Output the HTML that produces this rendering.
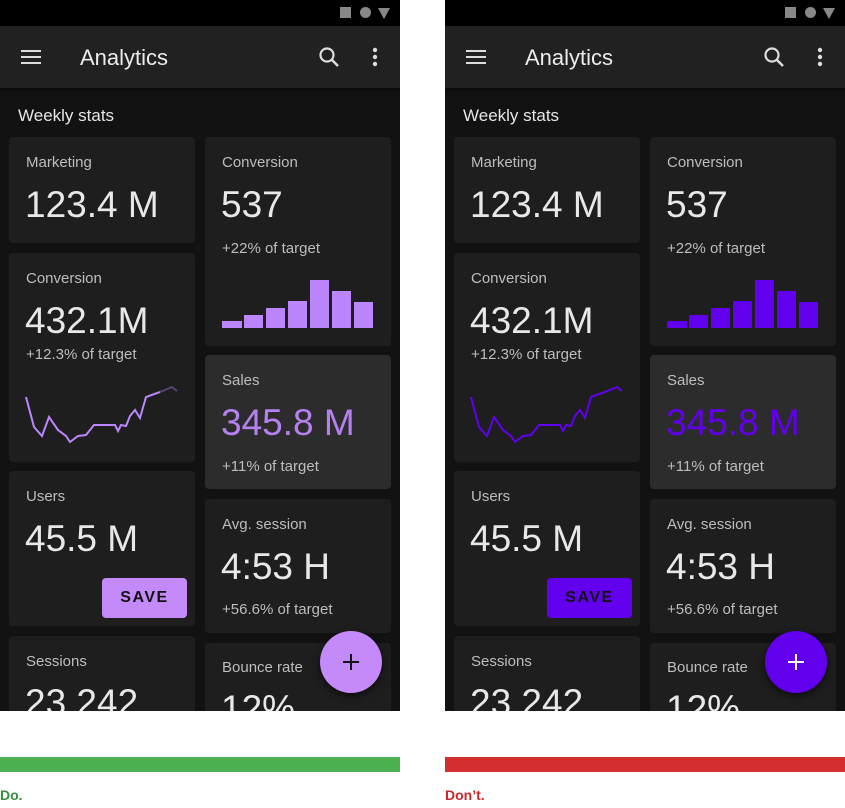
<!DOCTYPE html>
<html><head><meta charset="utf-8"><style>
*{margin:0;padding:0;box-sizing:border-box}
body{width:845px;height:808px;background:#fff;position:relative;overflow:hidden;font-family:"Liberation Sans",sans-serif}
.ph{position:absolute;top:0;width:400px;height:711px;background:#121212;overflow:hidden}
.sb{position:absolute;left:0;top:0;width:400px;height:26px;background:#000}
.ab{position:absolute;left:0;top:26px;width:400px;height:62px;background:#212121;box-shadow:0 2px 4px rgba(0,0,0,.5)}
.t{position:absolute;white-space:nowrap;color:#e6e6e6}
.c{position:absolute;background:#1e1e1e;border-radius:4px;width:186px}
.lbl{font-size:15px;color:#bdbdbd}
.big{font-size:37px;color:#e8e8e8}
.sub{font-size:15px;color:#bdbdbd}
.fab{position:absolute;left:320px;top:631px;width:62px;height:62px;border-radius:50%;box-shadow:0 3px 8px rgba(0,0,0,.6)}
.btn{position:absolute;left:102px;top:578px;width:85px;height:40px;border-radius:4px;font-size:16px;font-weight:bold;letter-spacing:1.5px;text-align:center;line-height:40px}
.title{left:80px;top:19px;font-size:22px;color:#ececec}
</style></head><body>

<!-- LEFT -->
<div class="ph" style="left:0">
<div class="sb"><div style="position:absolute;left:340px;top:7px;width:11px;height:11px;background:#888"></div><div style="position:absolute;left:360px;top:7px;width:11px;height:11px;border-radius:50%;background:#888"></div><div style="position:absolute;left:378px;top:8px;width:0;height:0;border-left:6px solid transparent;border-right:6px solid transparent;border-top:11px solid #888"></div></div>
<div class="ab">
<div style="position:absolute;left:21px;top:24px;width:20px;height:2px;background:#ddd;box-shadow:0 6px 0 #ddd,0 12px 0 #ddd"></div>
<div class="t title">Analytics</div>
<svg style="position:absolute;left:318px;top:20px" width="22" height="22"><circle cx="9" cy="9" r="6.5" stroke="#ddd" stroke-width="2.2" fill="none"/><line x1="14" y1="14" x2="20" y2="20" stroke="#ddd" stroke-width="2.5"/></svg>
<svg style="position:absolute;left:370px;top:20px" width="10" height="22"><circle cx="5" cy="4" r="2.2" fill="#ddd"/><circle cx="5" cy="11" r="2.2" fill="#ddd"/><circle cx="5" cy="18" r="2.2" fill="#ddd"/></svg>
</div>
<div class="t" style="left:18px;top:106px;font-size:17px">Weekly stats</div>
<div class="c" style="left:9px;top:137px;height:106px"></div>
<div class="t lbl" style="left:26px;top:154px">Marketing</div>
<div class="t big" style="left:25px;top:184px">123.4 M</div>
<div class="c" style="left:9px;top:253px;height:209px"></div>
<div class="t lbl" style="left:26px;top:270px">Conversion</div>
<div class="t big" style="left:25px;top:300px">432.1M</div>
<div class="t sub" style="left:26px;top:346px">+12.3% of target</div>
<svg style="position:absolute;left:0;top:0" width="200" height="460"><polyline points="26,397 34,427 42,436 49,417 58,430 66,436 70,442 78,436 86,435 94,425 115,425 118,431 121,425 126,426 130,416 135,410 140,418 146,397 160,392" fill="none" stroke="#bb86fc" stroke-width="2"/><polyline points="160,392 172,387 177,391" fill="none" stroke="#5a4476" stroke-width="2"/></svg>
<div class="c" style="left:9px;top:471px;height:155px"></div>
<div class="t lbl" style="left:26px;top:488px">Users</div>
<div class="t big" style="left:25px;top:518px">45.5 M</div>
<div class="btn" style="background:#c58af9;color:#111">SAVE</div>
<div class="c" style="left:9px;top:636px;height:90px"></div>
<div class="t lbl" style="left:26px;top:653px">Sessions</div>
<div class="t big" style="left:25px;top:682px">23,242</div>
<div class="c" style="left:205px;top:137px;height:209px"></div>
<div class="t lbl" style="left:222px;top:154px">Conversion</div>
<div class="t big" style="left:221px;top:184px">537</div>
<div class="t sub" style="left:222px;top:240px">+22% of target</div>
<svg style="position:absolute;left:0;top:0" width="400" height="340" fill="#bb86fc"><rect x="222" y="321" width="20" height="7"/><rect x="244" y="315" width="19" height="13"/><rect x="266" y="308" width="19" height="20"/><rect x="288" y="301" width="19" height="27"/><rect x="310" y="280" width="19" height="48"/><rect x="332" y="291" width="19" height="37"/><rect x="354" y="302" width="19" height="26"/></svg>
<div class="c" style="left:205px;top:355px;height:134px;background:#2c2c2c"></div>
<div class="t lbl" style="left:222px;top:372px">Sales</div>
<div class="t big" style="left:221px;top:402px;color:#b580f0">345.8 M</div>
<div class="t sub" style="left:222px;top:458px">+11% of target</div>
<div class="c" style="left:205px;top:499px;height:134px"></div>
<div class="t lbl" style="left:222px;top:516px">Avg. session</div>
<div class="t big" style="left:221px;top:546px">4:53 H</div>
<div class="t sub" style="left:222px;top:601px">+56.6% of target</div>
<div class="c" style="left:205px;top:643px;height:90px"></div>
<div class="t lbl" style="left:222px;top:659px">Bounce rate</div>
<div class="t big" style="left:221px;top:688px">12%</div>
<div class="fab" style="background:#c58af9"><div style="position:absolute;left:23px;top:30px;width:16px;height:2px;background:#111"></div><div style="position:absolute;left:30px;top:23px;width:2px;height:16px;background:#111"></div></div>
</div>
<div style="position:absolute;left:0;top:757px;width:400px;height:15px;background:#4caf50"></div>
<div class="t" style="left:0;top:787px;font-size:14px;font-weight:bold;color:#388e3c">Do.</div>

<!-- RIGHT -->
<div class="ph" style="left:445px">
<div class="sb"><div style="position:absolute;left:340px;top:7px;width:11px;height:11px;background:#888"></div><div style="position:absolute;left:360px;top:7px;width:11px;height:11px;border-radius:50%;background:#888"></div><div style="position:absolute;left:378px;top:8px;width:0;height:0;border-left:6px solid transparent;border-right:6px solid transparent;border-top:11px solid #888"></div></div>
<div class="ab">
<div style="position:absolute;left:21px;top:24px;width:20px;height:2px;background:#ddd;box-shadow:0 6px 0 #ddd,0 12px 0 #ddd"></div>
<div class="t title">Analytics</div>
<svg style="position:absolute;left:318px;top:20px" width="22" height="22"><circle cx="9" cy="9" r="6.5" stroke="#ddd" stroke-width="2.2" fill="none"/><line x1="14" y1="14" x2="20" y2="20" stroke="#ddd" stroke-width="2.5"/></svg>
<svg style="position:absolute;left:370px;top:20px" width="10" height="22"><circle cx="5" cy="4" r="2.2" fill="#ddd"/><circle cx="5" cy="11" r="2.2" fill="#ddd"/><circle cx="5" cy="18" r="2.2" fill="#ddd"/></svg>
</div>
<div class="t" style="left:18px;top:106px;font-size:17px">Weekly stats</div>
<div class="c" style="left:9px;top:137px;height:106px"></div>
<div class="t lbl" style="left:26px;top:154px">Marketing</div>
<div class="t big" style="left:25px;top:184px">123.4 M</div>
<div class="c" style="left:9px;top:253px;height:209px"></div>
<div class="t lbl" style="left:26px;top:270px">Conversion</div>
<div class="t big" style="left:25px;top:300px">432.1M</div>
<div class="t sub" style="left:26px;top:346px">+12.3% of target</div>
<svg style="position:absolute;left:0;top:0" width="200" height="460"><polyline points="26,397 34,427 42,436 49,417 58,430 66,436 70,442 78,436 86,435 94,425 115,425 118,431 121,425 126,426 130,416 135,410 140,418 146,397 160,392 172,387 177,391" fill="none" stroke="#6200ee" stroke-width="2"/></svg>
<div class="c" style="left:9px;top:471px;height:155px"></div>
<div class="t lbl" style="left:26px;top:488px">Users</div>
<div class="t big" style="left:25px;top:518px">45.5 M</div>
<div class="btn" style="background:#6200ee;color:#111">SAVE</div>
<div class="c" style="left:9px;top:636px;height:90px"></div>
<div class="t lbl" style="left:26px;top:653px">Sessions</div>
<div class="t big" style="left:25px;top:682px">23,242</div>
<div class="c" style="left:205px;top:137px;height:209px"></div>
<div class="t lbl" style="left:222px;top:154px">Conversion</div>
<div class="t big" style="left:221px;top:184px">537</div>
<div class="t sub" style="left:222px;top:240px">+22% of target</div>
<svg style="position:absolute;left:0;top:0" width="400" height="340" fill="#6200ee"><rect x="222" y="321" width="20" height="7"/><rect x="244" y="315" width="19" height="13"/><rect x="266" y="308" width="19" height="20"/><rect x="288" y="301" width="19" height="27"/><rect x="310" y="280" width="19" height="48"/><rect x="332" y="291" width="19" height="37"/><rect x="354" y="302" width="19" height="26"/></svg>
<div class="c" style="left:205px;top:355px;height:134px;background:#2c2c2c"></div>
<div class="t lbl" style="left:222px;top:372px">Sales</div>
<div class="t big" style="left:221px;top:402px;color:#6200ee">345.8 M</div>
<div class="t sub" style="left:222px;top:458px">+11% of target</div>
<div class="c" style="left:205px;top:499px;height:134px"></div>
<div class="t lbl" style="left:222px;top:516px">Avg. session</div>
<div class="t big" style="left:221px;top:546px">4:53 H</div>
<div class="t sub" style="left:222px;top:601px">+56.6% of target</div>
<div class="c" style="left:205px;top:643px;height:90px"></div>
<div class="t lbl" style="left:222px;top:659px">Bounce rate</div>
<div class="t big" style="left:221px;top:688px">12%</div>
<div class="fab" style="background:#6200ee"><div style="position:absolute;left:23px;top:30px;width:16px;height:2px;background:#fff"></div><div style="position:absolute;left:30px;top:23px;width:2px;height:16px;background:#fff"></div></div>
</div>
<div style="position:absolute;left:445px;top:757px;width:400px;height:15px;background:#d32f2f"></div>
<div class="t" style="left:445px;top:787px;font-size:14px;font-weight:bold;color:#c62828">Don’t.</div>
</body></html>
